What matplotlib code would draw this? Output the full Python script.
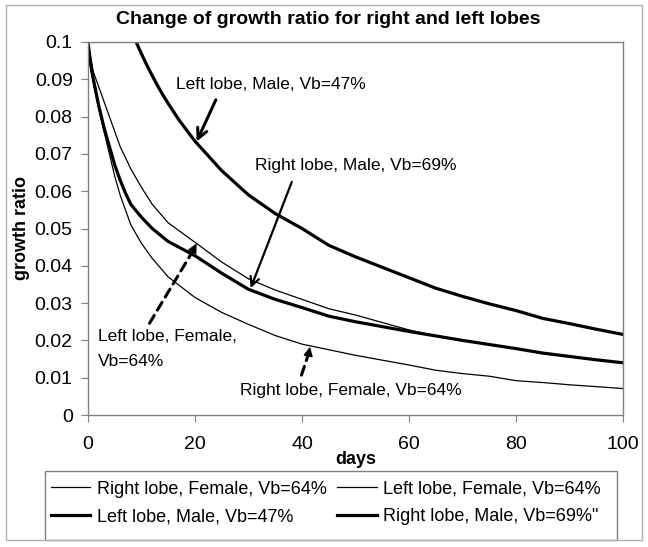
import matplotlib
matplotlib.use("Agg")
import matplotlib.pyplot as plt
from matplotlib.patches import Rectangle

plt.rcParams["font.family"] = ["Liberation Sans", "DejaVu Sans"]

# values
days_rf = [0, 0.5, 1, 2, 3, 4, 5, 6, 8, 10, 12, 15, 20, 25, 30, 35, 40, 45, 50,
           55, 60, 65, 70, 75, 80, 85, 90, 95, 100]
right_female = [0.1, 0.093, 0.089, 0.082, 0.076, 0.070, 0.064, 0.059, 0.051, 0.046,
                0.042, 0.037, 0.0315, 0.0275, 0.0243, 0.0213, 0.019, 0.0175, 0.016,
                0.0147, 0.0134, 0.012, 0.0111, 0.0104, 0.0092, 0.0087, 0.0081,
                0.0076, 0.0071]

days_lf = [0, 1, 2, 3, 4, 5, 6, 8, 10, 12, 15, 20, 25, 30, 35, 40, 45, 50, 55, 60,
           65, 70, 75, 80, 85, 90, 95, 100]
left_female = [0.1, 0.092, 0.088, 0.084, 0.080, 0.076, 0.072, 0.066, 0.061, 0.0565,
               0.0515, 0.0463, 0.041, 0.0365, 0.0335, 0.031, 0.0285, 0.0268, 0.0248,
               0.0228, 0.0212, 0.0200, 0.0189, 0.0178, 0.0167, 0.0157, 0.0148, 0.0141]

days_rm = [0, 0.5, 1, 2, 3, 4, 5, 6, 7, 8, 10, 12, 15, 20, 25, 30, 35, 40, 45, 50,
           55, 60, 65, 70, 75, 80, 85, 90, 95, 100]
right_male = [0.1, 0.094, 0.090, 0.083, 0.077, 0.072, 0.067, 0.063, 0.0595, 0.0565,
              0.053, 0.050, 0.0465, 0.0427, 0.038, 0.0337, 0.031, 0.0288, 0.0265,
              0.025, 0.0237, 0.0224, 0.0212, 0.0200, 0.0189, 0.0178, 0.0166, 0.0157,
              0.0148, 0.0140]

days_lm = [9, 10, 11, 12, 13, 14, 15, 17, 20, 25, 30, 35, 40, 45, 50, 55, 60, 65,
           70, 75, 80, 85, 90, 95, 100]
left_male = [0.1, 0.0968, 0.0938, 0.091, 0.0883, 0.0858, 0.0835, 0.0791, 0.0734,
             0.0655, 0.059, 0.054, 0.050, 0.0455, 0.0424, 0.0396, 0.0368, 0.034,
             0.0318, 0.0298, 0.028, 0.0259, 0.0245, 0.023, 0.0216]

x_ticks = [0, 20, 40, 60, 80, 100]
y_ticks = [0, 0.01, 0.02, 0.03, 0.04, 0.05, 0.06, 0.07, 0.08, 0.09, 0.1]
y_tick_labels = ["0", "0.01", "0.02", "0.03", "0.04", "0.05", "0.06", "0.07",
                 "0.08", "0.09", "0.1"]

W, H = 648, 547
FS = 12.5
GRAY = "#808080"

fig = plt.figure(figsize=(W / 100, H / 100), dpi=100)
ax = fig.add_axes([88 / W, 1 - 415 / H, (623 - 88) / W, (415 - 42) / H])

thin, thick = 0.9, 2.3
l_rf, = ax.plot(days_rf, right_female, color="black", lw=thin)
l_lf, = ax.plot(days_lf, left_female, color="black", lw=thin)
l_lm, = ax.plot(days_lm, left_male, color="black", lw=thick)
l_rm, = ax.plot(days_rm, right_male, color="black", lw=thick)

ax.set_xlim(0, 100)
ax.set_ylim(0, 0.1)
ax.set_xticks(x_ticks)
ax.set_yticks(y_ticks)
ax.set_yticklabels(y_tick_labels)
ax.tick_params(axis="both", direction="out", length=5, color=GRAY, labelsize=14)
ax.tick_params(axis="x", pad=10)
ax.tick_params(axis="y", pad=6)
for sp in ax.spines.values():
    sp.set_color(GRAY)
    sp.set_linewidth(1.0)

ax.set_xlabel("days", fontsize=13, fontweight="bold", labelpad=-1)
ax.set_ylabel("growth ratio", fontsize=13, fontweight="bold", labelpad=3)

# annotations
ax.text(16.4, 0.0887, "Left lobe, Male, Vb=47%", fontsize=FS, va="center")
ax.annotate("", xy=(20.3, 0.0733), xytext=(23.9, 0.0845),
            arrowprops=dict(arrowstyle="->", lw=2.2, color="black",
                            mutation_scale=18, shrinkA=0, shrinkB=0))

ax.text(31.2, 0.0668, "Right lobe, Male, Vb=69%", fontsize=FS, va="center")
ax.annotate("", xy=(30.4, 0.0340), xytext=(38.1, 0.0625),
            arrowprops=dict(arrowstyle="->", lw=1.6, color="black",
                            mutation_scale=16, shrinkA=0, shrinkB=0))

ax.text(1.9, 0.0210, "Left lobe, Female,", fontsize=FS, va="center")
ax.text(1.9, 0.0143, "Vb=64%", fontsize=FS, va="center")
ax.annotate("", xy=(19.4, 0.0435), xytext=(11.5, 0.0246),
            arrowprops=dict(arrowstyle="-", lw=2.2, ls=(0, (3, 2)), color="black",
                            shrinkA=0, shrinkB=0))
ax.annotate("", xy=(20.3, 0.0460), xytext=(19.5, 0.0438),
            arrowprops=dict(arrowstyle="-|>", lw=1.0, color="black",
                            mutation_scale=14, shrinkA=0, shrinkB=0))

ax.text(28.4, 0.0067, "Right lobe, Female, Vb=64%", fontsize=FS, va="center")
ax.annotate("", xy=(41.2, 0.0163), xytext=(39.9, 0.0107),
            arrowprops=dict(arrowstyle="-", lw=2.2, ls=(0, (3, 2)), color="black",
                            shrinkA=0, shrinkB=0))
ax.annotate("", xy=(41.5, 0.0183), xytext=(41.25, 0.0165),
            arrowprops=dict(arrowstyle="-|>", lw=1.0, color="black",
                            mutation_scale=14, shrinkA=0, shrinkB=0))

fig.text(0.507, 1 - 20 / H, "Change of growth ratio for right and left lobes",
         ha="center", va="center", fontsize=14, fontweight="bold")

# legend below the plot, filled row by row like the original
leg = fig.legend([l_rf, l_lm, l_lf, l_rm],
                 ["Right lobe, Female, Vb=64%", "Left lobe, Male, Vb=47%",
                  "Left lobe, Female, Vb=64%", "Right lobe, Male, Vb=69%\""],
                 loc="upper left", bbox_to_anchor=(47 / W, 1 - 477 / H),
                 ncol=2, frameon=False, fontsize=13, handlelength=2.2,
                 handletextpad=0.35, columnspacing=0.6, labelspacing=0.6,
                 borderpad=0.2, borderaxespad=0)
fig.patches.append(Rectangle((45 / W, 1 - 540 / H), (617 - 45) / W, (540 - 471) / H,
                             transform=fig.transFigure, fill=False,
                             edgecolor=GRAY, lw=1.0))
fig.patches.append(Rectangle((6 / W, 1 - 540 / H), (642 - 6) / W, (540 - 5) / H,
                             transform=fig.transFigure, fill=False,
                             edgecolor="#b0b0b0", lw=1.0))

fig.savefig("out.png", dpi=100)
